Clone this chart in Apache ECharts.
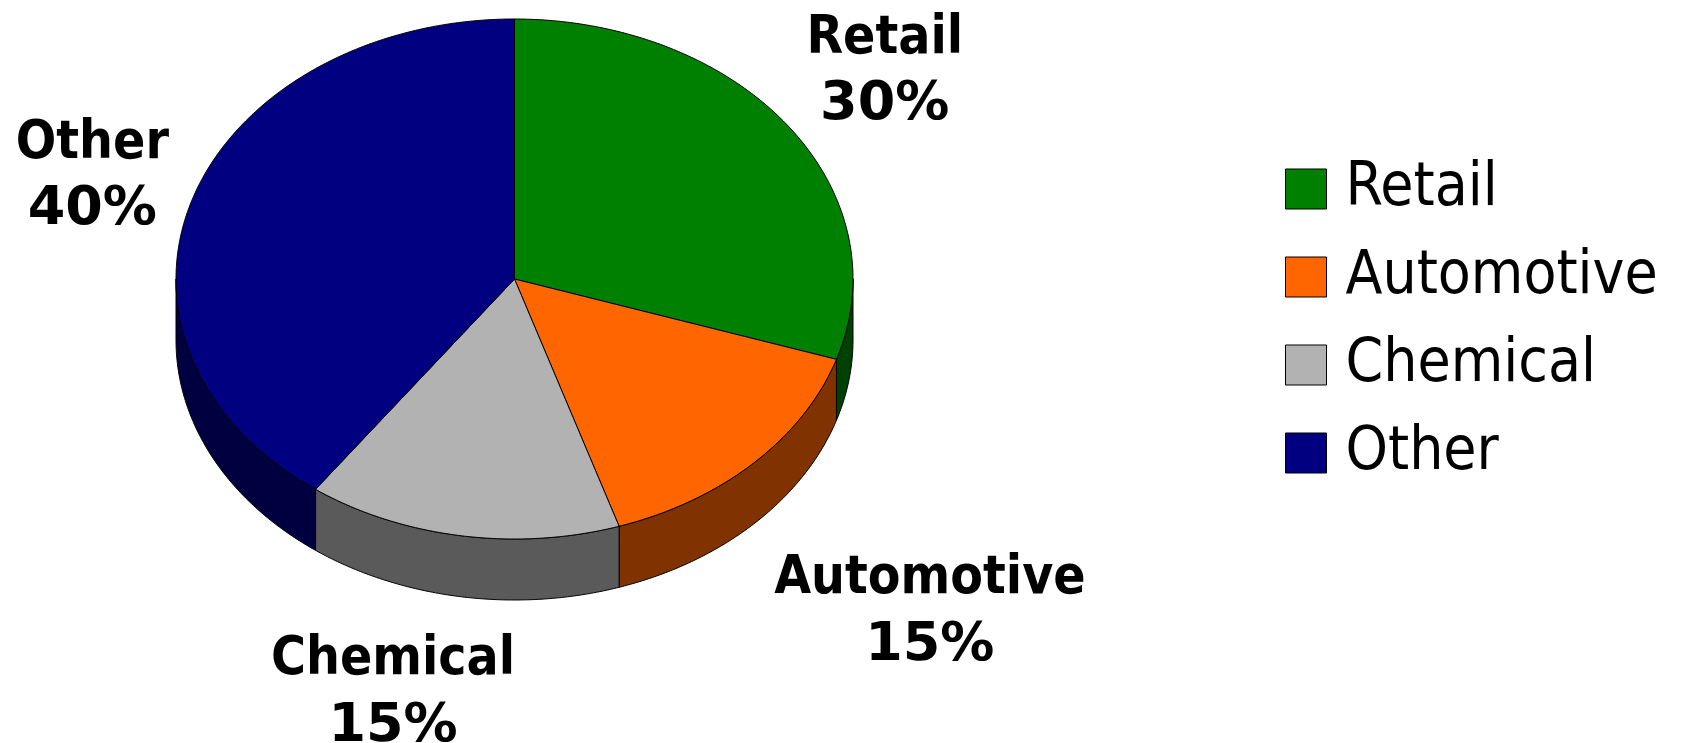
<!DOCTYPE html>
<html>
<head>
<meta charset="utf-8">
<script src="https://cdn.jsdelivr.net/npm/echarts@6/dist/echarts.min.js"></script>
<style>
html,body{margin:0;padding:0;background:#fff;}
#chart{width:1681px;height:743px;}
</style>
</head>
<body>
<div id="chart"></div>
<script>
// ---- data ----
var categories = ['Retail', 'Automotive', 'Chemical', 'Other'];
var values = [30, 15, 15, 40];

// ---- styles / layout ----
var topColors = ['#008000', '#FF6600', '#B2B2B2', '#000080'];
var sideColors = ['#004000', '#803300', '#5A5A5A', '#000040'];
var labelNudge = [[6, -4], [97, 28], [-51, 12], [6, 5]];
var CX = 514.5, CY = 279, RX = 338.5, RY = 260, DEPTH = 61, LABEL_K = 1.33;
var FONT_C = '"DejaVu Sans Condensed", "DejaVu Sans", sans-serif';
var FONT = '"DejaVu Sans", sans-serif';

var total = values.reduce(function (a, b) { return a + b; }, 0);
var starts = [];
(function () { var c = 0; for (var i = 0; i < values.length; i++) { starts.push(c); c += values[i]; } })();

function pt(a, dy) {
  return [CX + RX * Math.sin(a), CY - RY * Math.cos(a) + dy];
}
function arc(a0, a1, dy) {
  var pts = [];
  var n = Math.max(2, Math.ceil(Math.abs(a1 - a0) / (Math.PI / 360)));
  for (var k = 0; k <= n; k++) pts.push(pt(a0 + (a1 - a0) * k / n, dy));
  return pts;
}

function renderItem(params, api) {
  var idx = params.seriesIndex;
  var start = api.value(0), val = api.value(1);
  var a0 = start / total * 2 * Math.PI;
  var a1 = (start + val) / total * 2 * Math.PI;
  var children = [];
  var s = Math.max(a0, Math.PI / 2), e = Math.min(a1, 3 * Math.PI / 2);
  if (s < e) {
    var sidePts = arc(s, e, 0).concat(arc(e, s, DEPTH));
    children.push({
      type: 'polygon', z2: 1,
      shape: { points: sidePts },
      style: { fill: sideColors[idx], stroke: '#000', lineWidth: 1 }
    });
  }
  var topPts = [[CX, CY]].concat(arc(a0, a1, 0));
  children.push({
    type: 'polygon', z2: 10,
    shape: { points: topPts },
    style: { fill: topColors[idx], stroke: '#000', lineWidth: 1 }
  });
  var m = (a0 + a1) / 2;
  var lx = CX + LABEL_K * RX * Math.sin(m) + labelNudge[idx][0];
  var ly = CY - LABEL_K * RY * Math.cos(m) + (Math.cos(m) < 0 ? DEPTH : 0) + labelNudge[idx][1];
  children.push({
    type: 'text', z2: 20,
    style: {
      text: '{n|' + categories[idx] + '}\n{p|' + Math.round(val / total * 100) + '%}',
      x: lx, y: ly, align: 'center', verticalAlign: 'middle',
      fill: '#000',
      rich: {
        n: { fontSize: 53, fontWeight: 'bold', fontFamily: FONT_C, lineHeight: 66, fill: '#000', align: 'center' },
        p: { fontSize: 54, fontWeight: 'bold', fontFamily: FONT, lineHeight: 66, fill: '#000', align: 'center' }
      }
    }
  });
  return { type: 'group', children: children };
}

var series = categories.map(function (name, i) {
  return {
    type: 'custom',
    name: name,
    coordinateSystem: 'none',
    renderItem: renderItem,
    itemStyle: { color: topColors[i] },
    data: [[starts[i], values[i]]],
    animation: false,
    silent: true
  };
});

var chart = echarts.init(document.getElementById('chart'));
chart.setOption({
  backgroundColor: '#fff',
  animation: false,
  legend: {
    orient: 'vertical',
    left: 1280,
    top: 154,
    itemWidth: 41,
    itemHeight: 40,
    itemGap: 28,
    icon: 'rect',
    selectedMode: false,
    itemStyle: { borderColor: '#000', borderWidth: 1 },
    textStyle: { fontSize: 60, fontFamily: FONT_C, color: '#000', padding: [0, 0, 0, 14] },
    data: categories
  },
  series: series
});
</script>
</body>
</html>
